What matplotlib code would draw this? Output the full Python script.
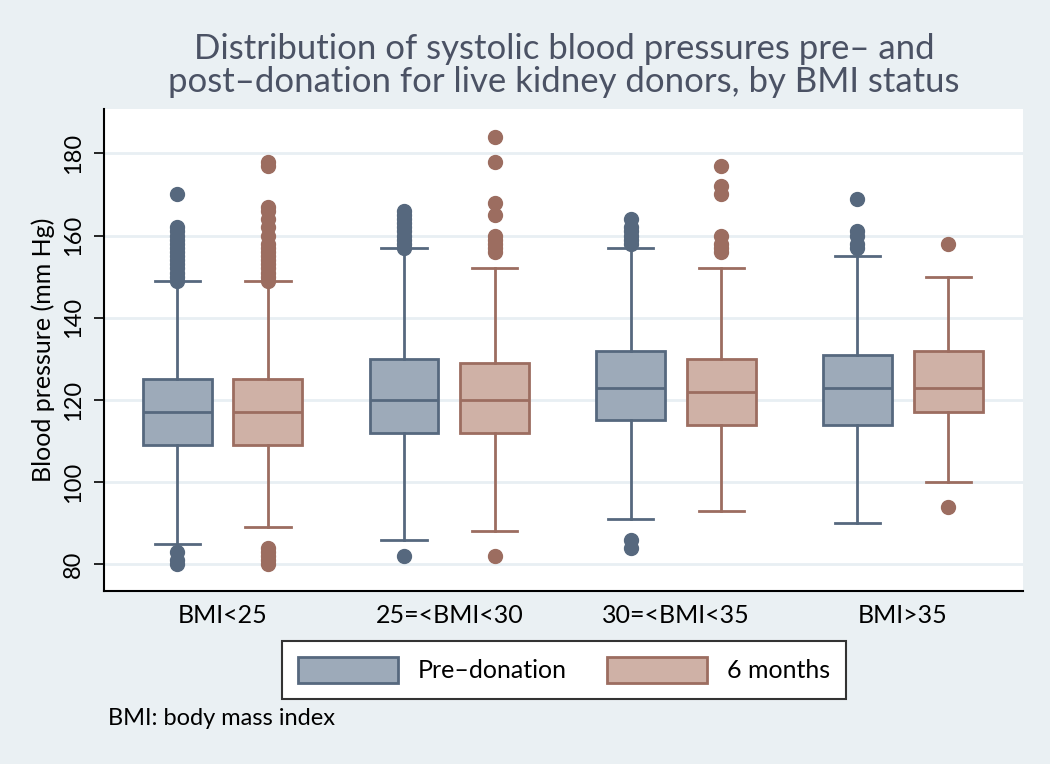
import matplotlib.pyplot as plt
from matplotlib.patches import Patch

plt.rcParams['font.family'] = ['Lato', 'DejaVu Sans']

# BMI groups and box statistics (mm Hg)
groups = ['BMI<25', '25=<BMI<30', '30=<BMI<35', 'BMI>35']

pre_q1 = [109, 112, 115, 114]
pre_med = [117, 120, 123, 123]
pre_q3 = [125, 130, 132, 131]
pre_lo = [85, 86, 91, 90]
pre_hi = [149, 157, 157, 155]
pre_out = [
    [170, 162, 161, 160, 159, 158, 157, 156, 155, 154, 153, 152, 151, 150, 149, 83, 81, 80],
    [166, 165, 164, 163, 162, 161, 160, 159, 158, 157, 82],
    [164, 162, 161, 160, 159, 158, 86, 84],
    [169, 161, 160, 158, 157],
]

post_q1 = [109, 112, 114, 117]
post_med = [117, 120, 122, 123]
post_q3 = [125, 129, 130, 132]
post_lo = [89, 88, 93, 100]
post_hi = [149, 152, 152, 150]
post_out = [
    [178, 177, 167, 166, 164, 162, 160, 158, 157, 156, 155, 154, 153, 152, 151, 150, 149,
     84, 83, 82, 81, 80],
    [184, 178, 168, 165, 160, 159, 158, 157, 156, 82],
    [177, 172, 170, 160, 158, 157, 156],
    [158, 94],
]

pre_fill, pre_edge = '#9DAAB9', '#56687E'
post_fill, post_edge = '#CFB1A6', '#9C6D60'
bg = '#EAF0F3'


def make_stats(q1, med, q3, lo, hi, out):
    stats = []
    for i in range(len(q1)):
        stats.append({'q1': q1[i], 'med': med[i], 'q3': q3[i],
                      'whislo': lo[i], 'whishi': hi[i], 'fliers': out[i]})
    return stats


fig = plt.figure(figsize=(10.5, 7.64), dpi=100, facecolor=bg)
ax = fig.add_axes([0.0986, 0.2264, 0.8757, 0.6309])
ax.set_facecolor('white')

centers = list(range(len(groups)))
offset = 0.2
width = 0.304

for stats, shift, fc, ec in [
    (make_stats(pre_q1, pre_med, pre_q3, pre_lo, pre_hi, pre_out), -offset, pre_fill, pre_edge),
    (make_stats(post_q1, post_med, post_q3, post_lo, post_hi, post_out), offset, post_fill, post_edge),
]:
    ax.bxp(stats, positions=[c + shift for c in centers], widths=width,
           patch_artist=True, showfliers=True,
           boxprops=dict(facecolor=fc, edgecolor=ec, linewidth=2),
           medianprops=dict(color=ec, linewidth=2),
           whiskerprops=dict(color=ec, linewidth=2),
           capprops=dict(color=ec, linewidth=2),
           capwidths=0.2,
           flierprops=dict(marker='o', markersize=10, markerfacecolor=ec,
                           markeredgecolor=ec, linestyle='none'))

ax.set_xlim(-0.525, 3.53)
ax.set_ylim(73.5, 190.8)
ax.set_yticks([80, 100, 120, 140, 160, 180])
ax.set_xticks(centers)
ax.set_xticklabels(groups)
ax.yaxis.grid(True, color='#E8EFF3', linewidth=2)
ax.set_axisbelow(True)

for s in ['top', 'right']:
    ax.spines[s].set_visible(False)
for s in ['left', 'bottom']:
    ax.spines[s].set_linewidth(1.5)
    ax.spines[s].set_color('black')

ax.tick_params(axis='y', labelrotation=90, labelsize=17, length=7, width=1.2, pad=7)
for lab in ax.get_yticklabels():
    lab.set_verticalalignment('center')
ax.tick_params(axis='x', length=0, labelsize=18, pad=9)
ax.set_ylabel('Blood pressure (mm Hg)', fontsize=18, labelpad=6)

fig.text(0.537, 0.914, 'Distribution of systolic blood pressures pre\u2013 and\n'
         'post\u2013donation for live kidney donors, by BMI status',
         ha='center', va='center', fontsize=25, color='#4B5264', linespacing=1.05)

handles = [Patch(facecolor=pre_fill, edgecolor=pre_edge, linewidth=2, label='Pre\u2013donation'),
           Patch(facecolor=post_fill, edgecolor=post_edge, linewidth=2, label='6 months')]
leg = fig.legend(handles=handles, loc='center', bbox_to_anchor=(0.537, 0.123),
                 ncol=2, fontsize=18, frameon=True, fancybox=False,
                 handlelength=4.0, handleheight=1.2, columnspacing=1.6,
                 borderpad=0.65, handletextpad=0.8, borderaxespad=0,
                 edgecolor='#333333')
leg.get_frame().set_linewidth(1.5)
leg.get_frame().set_facecolor('white')
leg.get_frame().set_alpha(1)

fig.text(0.103, 0.06, 'BMI: body mass index', fontsize=17, va='center')

fig.savefig('out.png', dpi=100, facecolor=bg)
